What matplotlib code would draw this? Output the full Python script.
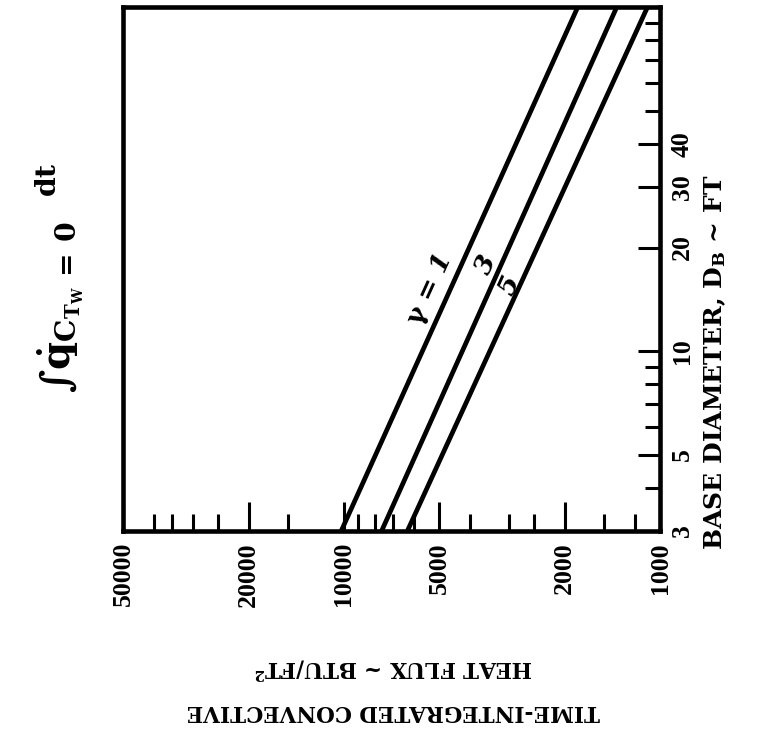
import numpy as np
import matplotlib
matplotlib.use("Agg")
import matplotlib.pyplot as plt
from matplotlib.ticker import FixedLocator, FixedFormatter, NullFormatter

# --- data -------------------------------------------------------------
diameter_ft = [3, 100]                      # base diameter D_B (ft), line end points
flux_gamma1 = [10200, 1820]                 # BTU/ft^2, gamma = 1
flux_gamma3 = [7600, 1370]                  # gamma = 3
flux_gamma5 = [6300, 1095]                  # gamma = 5
gamma_labels = ["$\\gamma$ = 1", "3", "5"]
label_diam = [15.0, 17.9, 15.5]             # where each gamma label sits along its line

flux_major = [1000, 2000, 5000, 10000, 20000, 50000]
flux_major_labels = ["1000", "2000", "5000", "10000", "20000", "50000"]
flux_minor = [1200, 1500, 2500, 3000, 4000, 6000, 7000, 8000, 9000,
              15000, 25000, 30000, 35000, 40000]
diam_major = [3, 5, 10, 20, 30, 40]
diam_major_labels = ["3", "5", "10", "20", "30", "40"]
diam_minor = [4, 6, 7, 8, 9, 50, 60, 70, 80, 90]

# --- style ------------------------------------------------------------
plt.rcParams["mathtext.fontset"] = "custom"
plt.rcParams["mathtext.rm"] = "DejaVu Serif:bold"
plt.rcParams["mathtext.it"] = "DejaVu Serif:italic:bold"
plt.rcParams["mathtext.bf"] = "DejaVu Serif:bold"
plt.rcParams["mathtext.default"] = "rm"

W, H = 761, 738
fig = plt.figure(figsize=(W / 100, H / 100), dpi=100)
left, right, top, bottom = 123, 660, 7, 531
ax = fig.add_axes([left / W, 1 - bottom / H, (right - left) / W, (bottom - top) / H])

ax.set_xscale("log")
ax.set_yscale("log")
ax.set_xlim(50000, 1000)
ax.set_ylim(3, 100)

lw = 3.4
for flux in (flux_gamma1, flux_gamma3, flux_gamma5):
    ax.plot(flux, diameter_ft, color="black", lw=lw, solid_capstyle="butt")

for s in ax.spines.values():
    s.set_linewidth(3.3)

# heat-flux axis along the bottom
ax.xaxis.set_major_locator(FixedLocator(flux_major))
ax.xaxis.set_major_formatter(FixedFormatter(flux_major_labels))
ax.xaxis.set_minor_locator(FixedLocator(flux_minor))
ax.xaxis.set_minor_formatter(NullFormatter())
ax.tick_params(axis="x", which="both", direction="in", bottom=True, top=False,
               width=2.2, color="black")
ax.tick_params(axis="x", which="major", length=21, pad=8)
ax.tick_params(axis="x", which="minor", length=12)

# base-diameter axis along the right side
ax.yaxis.tick_right()
ax.yaxis.set_major_locator(FixedLocator(diam_major))
ax.yaxis.set_major_formatter(FixedFormatter(diam_major_labels))
ax.yaxis.set_minor_locator(FixedLocator(diam_minor))
ax.yaxis.set_minor_formatter(NullFormatter())
ax.tick_params(axis="y", which="both", direction="in", left=False, right=True,
               width=2.2, color="black")
ax.tick_params(axis="y", which="major", length=16, pad=8)
ax.tick_params(axis="y", which="minor", length=11)

tick_font = dict(family="Liberation Serif", weight="bold", size=18.5)
for lab in ax.get_xticklabels():
    lab.set(rotation=90, va="top", ha="center", **tick_font)
for lab in ax.get_yticklabels():
    lab.set(rotation=90, va="center", ha="left", **tick_font)

# gamma labels parallel to the lines
p0 = ax.transData.transform((flux_gamma1[0], diameter_ft[0]))
p1 = ax.transData.transform((flux_gamma1[1], diameter_ft[1]))
angle = np.degrees(np.arctan2(p1[1] - p0[1], p1[0] - p0[0]))
offsets = [-20, -16, -10]
for text, d, flux, off in zip(gamma_labels, label_diam,
                              (flux_gamma1, flux_gamma3, flux_gamma5), offsets):
    slope = np.log(flux[1] / flux[0]) / np.log(diameter_ft[1] / diameter_ft[0])
    q = flux[0] * (d / diameter_ft[0]) ** slope
    ax.annotate(text, (q, d), xytext=(off * 0.72, 0), textcoords="offset points",
                rotation=angle, ha="center", va="center", fontsize=19,
                family="DejaVu Serif", style="italic", weight="bold")

# axis titles
fig.text(715 / W, 1 - 362 / H, "BASE DIAMETER, D$_{\\mathrm{B}}$ ~ FT",
         rotation=90, ha="center", va="center", fontsize=18,
         family="DejaVu Serif", weight="bold")
fig.text(393 / W, 1 - 689 / H,
         "TIME-INTEGRATED CONVECTIVE\nHEAT FLUX ~ BTU/FT$^{2}$",
         rotation=180, ha="center", va="center", fontsize=15.5,
         family="DejaVu Serif", weight="bold", linespacing=1.9,
         multialignment="center")

# integral annotation
fig.text(60 / W, 1 - 278 / H,
         "$\\int\\dot{\\mathrm{q}}_{\\mathrm{C}_{\\mathrm{T}_{\\mathrm{W}}}\\,=\\,0}\\;\\;^{\\mathrm{dt}}$",
         rotation=90, ha="center", va="center", fontsize=29)

fig.savefig("out.png", dpi=100, facecolor="white")
